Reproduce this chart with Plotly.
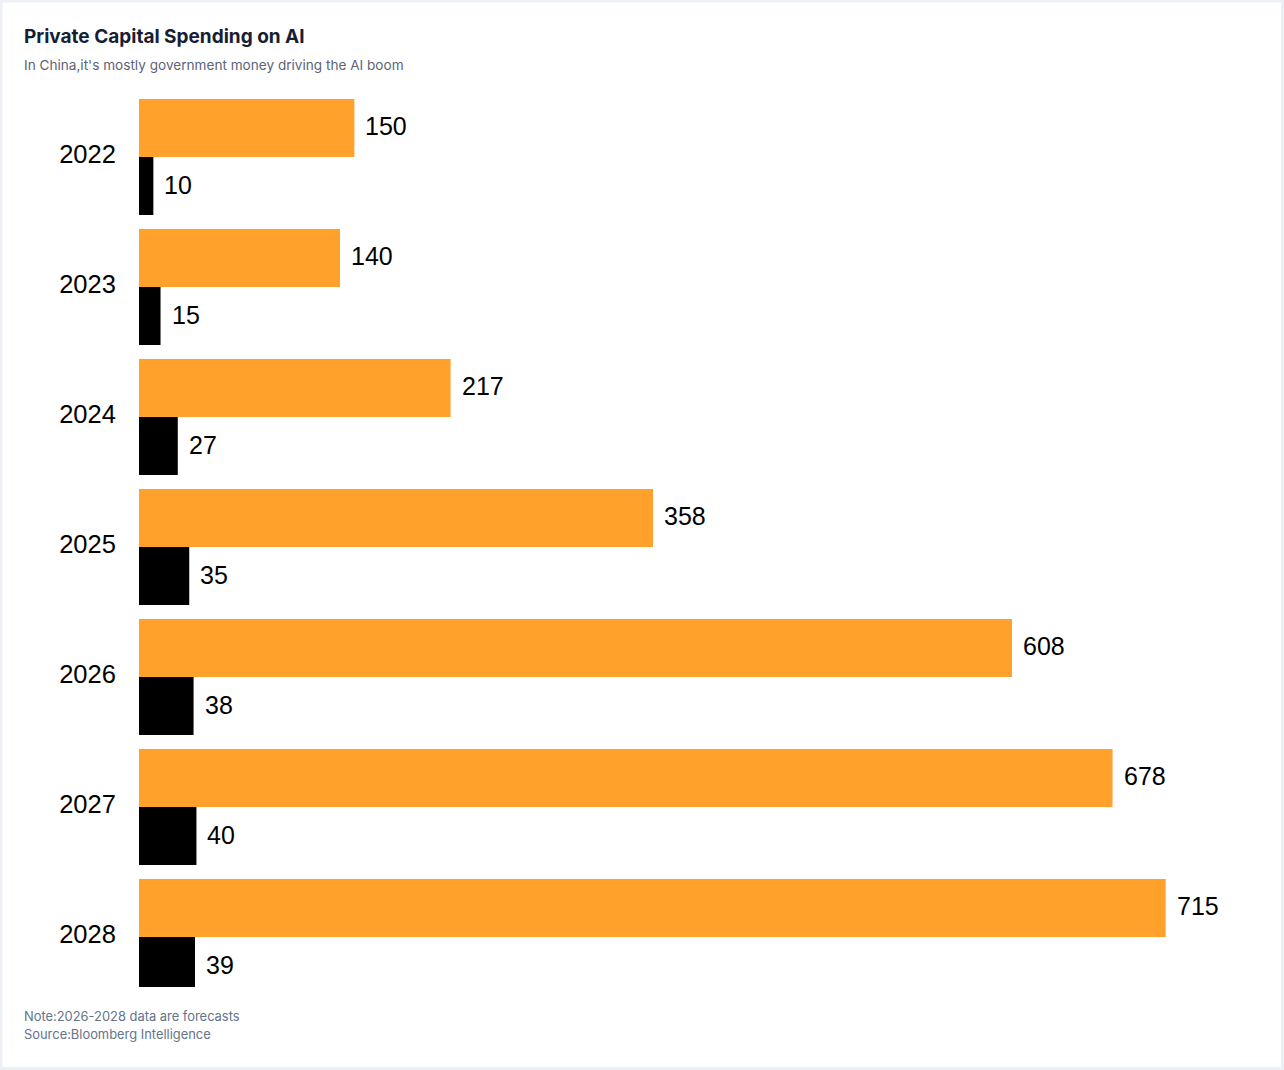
import plotly.graph_objects as go

years = ["2022", "2023", "2024", "2025", "2026", "2027", "2028"]
orange_vals = [150, 140, 217, 358, 608, 678, 715]
black_vals = [10, 15, 27, 35, 38, 40, 39]

title = "Private Capital Spending on AI"
subtitle = "In China,it's mostly government money driving the AI boom"
note = "Note:2026-2028 data are forecasts"
source = "Source:Bloomberg Intelligence"

W, H = 1284, 1070
ML, MR, MT, MB = 139, 25, 92, 83
PW, PH = W - ML - MR, H - MT - MB

def px(x):
    return (x - ML) / PW

def py(y):
    return (H - MB - y) / PH

fig = go.Figure()
fig.add_trace(go.Bar(y=years, x=orange_vals, orientation="h", name="orange",
                     marker=dict(color="#ffa12b", line=dict(width=0)),
                     hoverinfo="x+y"))
fig.add_trace(go.Bar(y=years, x=black_vals, orientation="h", name="black",
                     marker=dict(color="#000000", line=dict(width=0)),
                     hoverinfo="x+y"))

label_font = dict(family="Liberation Sans, Arial, sans-serif", size=25, color="#000000")
annotations = []
for i, (yr, v) in enumerate(zip(years, orange_vals)):
    annotations.append(dict(x=v, y=i - 0.235, xref="x", yref="y", text=str(v),
                            showarrow=False, xanchor="left", yanchor="middle",
                            xshift=9, font=label_font))
for i, (yr, v) in enumerate(zip(years, black_vals)):
    annotations.append(dict(x=v, y=i + 0.215, xref="x", yref="y", text=str(v),
                            showarrow=False, xanchor="left", yanchor="middle",
                            xshift=9, font=label_font))

annotations += [
    dict(x=px(22), y=py(36), xref="paper", yref="paper", text="<b>" + title + "</b>",
         showarrow=False, xanchor="left", yanchor="middle",
         font=dict(family="Inter, sans-serif", size=19, color="#172033")),
    dict(x=px(22), y=py(65), xref="paper", yref="paper", text=subtitle,
         showarrow=False, xanchor="left", yanchor="middle",
         font=dict(family="Inter, sans-serif", size=13.6, color="#5b6478")),
    dict(x=px(22), y=py(1016), xref="paper", yref="paper", text=note,
         showarrow=False, xanchor="left", yanchor="middle",
         font=dict(family="Inter, sans-serif", size=12.9, color="#64748b")),
    dict(x=px(22), y=py(1034), xref="paper", yref="paper", text=source,
         showarrow=False, xanchor="left", yanchor="middle",
         font=dict(family="Inter, sans-serif", size=12.9, color="#64748b")),
]

fig.update_layout(
    width=W, height=H,
    margin=dict(l=ML, r=MR, t=MT, b=MB, pad=0),
    paper_bgcolor="#ffffff", plot_bgcolor="#ffffff",
    barmode="group", bargap=0.1077, bargroupgap=0,
    showlegend=False,
    annotations=annotations,
    shapes=[dict(type="rect", xref="paper", yref="paper",
                 x0=px(1), x1=px(W - 1.5), y0=py(H - 1.5), y1=py(1),
                 line=dict(color="#edf1f5", width=3), fillcolor="rgba(0,0,0,0)",
                 layer="below")],
    xaxis=dict(range=[0, 780], visible=False, fixedrange=True),
    yaxis=dict(range=[6.385, -0.5], type="category", showgrid=False, zeroline=False,
               showline=False, ticks="outside", ticklen=17, tickcolor="rgba(0,0,0,0)",
               ticklabelshift=3, fixedrange=True,
               tickfont=dict(family="Liberation Sans, Arial, sans-serif", size=25.5,
                             color="#000000")),
)

fig.write_html("out.html", config={"displayModeBar": False},
               post_script="document.body.style.margin='0px';")
